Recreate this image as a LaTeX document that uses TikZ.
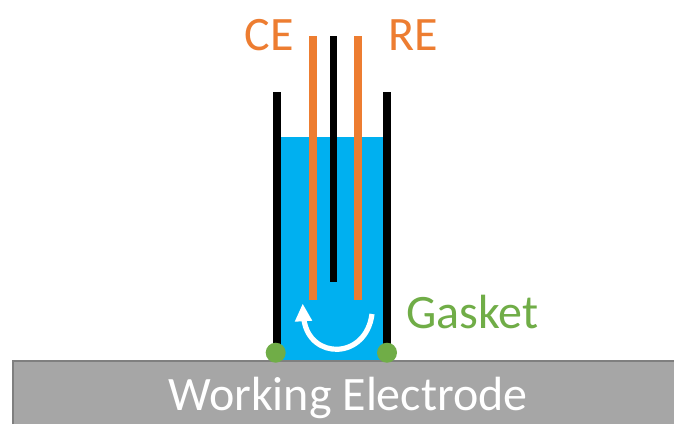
\documentclass[tikz,border=0pt]{standalone}
\usepackage{fontspec}
\setmainfont{Carlito}
\definecolor{wat}{HTML}{00B0F0}
\definecolor{org}{HTML}{ED7D31}
\definecolor{grn}{HTML}{70AD47}
\definecolor{gry}{HTML}{A6A6A6}
\definecolor{edgegry}{HTML}{7F7F7F}
\tikzset{px/.style={x=1pt,y=-1pt},
 wall/.style={line width=7.7pt,draw=black},
 rod/.style={line width=7.7pt,draw=org},
 lab/.style={font=\fontsize{48}{54}\selectfont,inner sep=0pt,anchor=base}}
\begin{document}
\begin{tikzpicture}[px]
\useasboundingbox (0,0) rectangle (674,424);
\fill[white] (0,0) rectangle (674,424);
\fill[wat] (277,137) rectangle (387,360);
\fill[gry] (12,360) rectangle (674,424);
\draw[edgegry,line width=2.4pt] (13.2,424) -- (13.2,361.2) -- (674,361.2);
\node[lab,text=white] (we) at (348,410.5) {Working Electrode};
\coordinate (wl1) at (277,92.3); \coordinate (wl2) at (277,352);
\coordinate (wr1) at (387,92.3); \coordinate (wr2) at (387,352);
\draw[wall] (wl1) -- (wl2);
\draw[wall] (wr1) -- (wr2);
\coordinate (c1) at (333.5,36); \coordinate (c2) at (333.5,282);
\draw[wall] (c1) -- (c2);
\coordinate (ce1) at (313,36); \coordinate (ce2) at (313,299.5);
\coordinate (re1) at (358,36); \coordinate (re2) at (358,299.5);
\draw[rod] (ce1) -- (ce2);
\draw[rod] (re1) -- (re2);
\fill[grn] (275.7,352.7) circle (10pt);
\fill[grn] (387,352.7) circle (10pt);
\node[lab,text=org] (ce) at (269.5,50) {CE};
\node[lab,text=org] (re) at (413,50) {RE};
\node[lab,text=grn] (ga) at (472.5,328) {Gasket};
\coordinate (a1) at (372,314); \coordinate (a2) at (304,320);
\draw[white,line width=5.2pt] (a1) .. controls (366,360) and (310,360) .. (a2);
\fill[white] (302.7,304) -- (294.7,321.7) -- (312.3,320.7) -- cycle;
\end{tikzpicture}
\end{document}
